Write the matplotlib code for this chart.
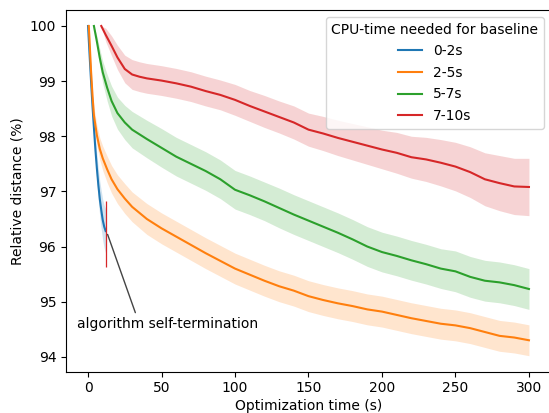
import matplotlib
matplotlib.use("Agg")
import matplotlib.pyplot as plt
import numpy as np

# ---- data ----
labels = ["0-2s", "2-5s", "5-7s", "7-10s"]
colors = ["#1f77b4", "#ff7f0e", "#2ca02c", "#d62728"]

t_blue = [0, 1, 2, 3, 4, 5, 6, 7, 8, 9, 10, 11, 12]
m_blue = [100, 99.5, 99.02, 98.56, 98.15, 97.76, 97.42, 97.12, 96.86, 96.66, 96.48, 96.36, 96.28]
w_blue = [0.0, 0.06, 0.1, 0.14, 0.18, 0.22, 0.26, 0.29, 0.32, 0.35, 0.37, 0.39, 0.4]

t_orange = [0.5, 1, 2, 3, 4, 6, 8, 10, 13, 16, 20, 25, 30, 40, 50, 60, 70, 80, 90, 100, 110,
            120, 130, 140, 150, 160, 170, 180, 190, 200, 210, 220, 230, 240, 250, 260,
            270, 280, 290, 300]
m_orange = [100, 99.75, 99.2, 98.75, 98.38, 98.02, 97.77, 97.6, 97.4, 97.22, 97.04, 96.87,
            96.72, 96.5, 96.33, 96.18, 96.03, 95.88, 95.74, 95.6, 95.49, 95.38, 95.28, 95.2,
            95.1, 95.03, 94.97, 94.92, 94.86, 94.82, 94.76, 94.7, 94.65, 94.6, 94.57, 94.52,
            94.45, 94.38, 94.35, 94.3]
w_orange = [0.0, 0.05, 0.1, 0.13, 0.15, 0.18, 0.2, 0.22, 0.24, 0.25, 0.26, 0.27, 0.27, 0.28,
            0.28, 0.28, 0.28, 0.28, 0.28, 0.28, 0.28, 0.28, 0.28, 0.28, 0.28, 0.28, 0.28,
            0.28, 0.28, 0.28, 0.28, 0.28, 0.28, 0.28, 0.28, 0.28, 0.28, 0.28, 0.28, 0.28]

t_green = [4, 6, 8, 10, 13, 16, 20, 25, 30, 40, 50, 60, 70, 80, 90, 100, 110, 120, 130,
           140, 150, 160, 170, 180, 190, 200, 210, 220, 230, 240, 250, 260, 270, 280, 290, 300]
m_green = [100, 99.72, 99.42, 99.16, 98.88, 98.64, 98.42, 98.25, 98.12, 97.95, 97.79, 97.63,
           97.5, 97.37, 97.22, 97.03, 96.93, 96.82, 96.7, 96.58, 96.47, 96.36, 96.25, 96.13,
           96.0, 95.9, 95.83, 95.75, 95.68, 95.6, 95.55, 95.45, 95.38, 95.35, 95.3, 95.23]
w_green = [0.0, 0.1, 0.16, 0.2, 0.24, 0.27, 0.29, 0.31, 0.33, 0.34, 0.35, 0.35, 0.35, 0.35,
           0.35, 0.35, 0.35, 0.35, 0.36, 0.36, 0.36, 0.36, 0.36, 0.36, 0.36, 0.36, 0.36, 0.36,
           0.36, 0.36, 0.37, 0.37, 0.37, 0.37, 0.37, 0.37]

t_red = [9, 12, 16, 20, 25, 30, 35, 40, 50, 60, 70, 80, 90, 100, 110, 120, 130, 140, 150,
         160, 170, 180, 190, 200, 210, 220, 230, 240, 250, 260, 270, 280, 290, 300]
m_red = [100.0, 99.84, 99.64, 99.43, 99.22, 99.12, 99.08, 99.05, 99.01, 98.96, 98.9, 98.82,
         98.75, 98.66, 98.55, 98.45, 98.35, 98.25, 98.12, 98.05, 97.97, 97.9, 97.83, 97.76,
         97.7, 97.62, 97.58, 97.52, 97.45, 97.35, 97.22, 97.15, 97.09, 97.08]
w_red = [0.0, 0.12, 0.18, 0.22, 0.25, 0.27, 0.27, 0.27, 0.27, 0.27, 0.27, 0.27, 0.27, 0.28,
         0.28, 0.29, 0.29, 0.3, 0.3, 0.31, 0.32, 0.33, 0.34, 0.35, 0.37, 0.38, 0.4, 0.42,
         0.44, 0.46, 0.48, 0.5, 0.51, 0.52]

series = [(t_blue, m_blue, w_blue), (t_orange, m_orange, w_orange),
          (t_green, m_green, w_green), (t_red, m_red, w_red)]

term_x = 12.5
term_y = (95.62, 96.82)

# ---- plot ----
fig = plt.figure(figsize=(5.49, 4.13), dpi=100)
ax = fig.add_axes([66/549, 41.3/413, (551-66)/549, (371.7-10)/413])

for (t, m, w), c, lab in zip(series, colors, labels):
    t = np.array(t); m = np.array(m); w = np.array(w)
    ax.fill_between(t, m - w, m + w, color=c, alpha=0.2, linewidth=0)
    ax.plot(t, m, color=c, lw=1.5, label=lab)

ax.vlines(term_x, term_y[0], term_y[1], color="#d62728", lw=0.9)
ax.annotate("algorithm self-termination", xy=(13.3, 96.22), xytext=(-7.5, 94.6),
            ha="left", va="center", fontsize=10,
            arrowprops=dict(arrowstyle="-", color="#444444", lw=1, relpos=(0.33, 1.0),
                            shrinkA=1, shrinkB=0))

ax.set_xlim(-15, 315)
ax.set_ylim(93.73, 100.29)
ax.set_xticks([0, 50, 100, 150, 200, 250, 300])
ax.set_yticks([94, 95, 96, 97, 98, 99, 100])
ax.set_xlabel("Optimization time (s)", labelpad=2.5)
ax.set_ylabel("Relative distance (%)")
ax.legend(title="CPU-time needed for baseline", loc="upper right",
          handlelength=1.7, labelspacing=0.55)

fig.savefig("out.png", dpi=100)
